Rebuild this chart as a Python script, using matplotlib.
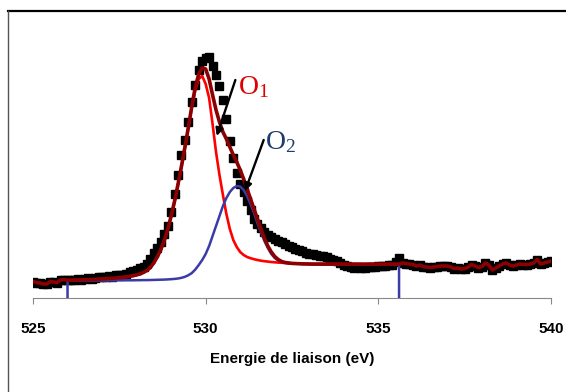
import numpy as np
import matplotlib.pyplot as plt
from matplotlib import font_manager
from matplotlib.lines import Line2D

# raw O1s spectrum, 525.0 -> 540.0 eV every 0.1 eV
intensity = [16.5, 15.5, 15, 14, 14, 16.5, 16, 15.5, 18, 18.5,
             18, 18, 18.5, 19, 18.5, 19.5, 20, 19.5, 20.5, 21,
             21, 21.5, 22, 21.5, 23, 23, 23.5, 24.5, 26, 27,
             28.5, 30, 31.5, 34, 39, 45, 50, 56, 64, 72,
             86, 104, 123, 143, 158, 176, 196, 213, 228, 237,
             240, 241, 232, 223, 212, 198, 179, 157, 140, 125,
             114, 106, 97, 88, 79, 74, 70, 66, 63, 61,
             59, 57, 56, 54, 52.5, 51, 49, 48, 47, 45.5,
             44.5, 44, 43, 42.5, 42, 41, 39.5, 38, 37, 35,
             33, 32, 31, 30.5, 31, 30, 30.5, 31, 31.5, 31,
             32, 32.5, 32, 33, 33, 36, 40, 35, 34.5, 34,
             33.5, 32, 33, 31.5, 31, 30.5, 31, 31.5, 32, 32,
             32, 31, 29.5, 30, 29, 29.5, 31, 33.5, 32, 30.5,
             31.5, 35, 33, 28, 30, 32, 34, 35, 33, 32,
             33, 34, 33.5, 33.5, 34, 35, 38.5, 34, 35, 36,
             37]

# fitted components, 526.0 -> 535.6 eV every 0.1 eV
o1 = [17.7, 17.8, 17.9, 18.0, 18.1, 18.2, 18.3, 18.4, 18.6, 18.8,
      19.0, 19.2, 19.4, 19.6, 19.9, 20.2, 20.6, 21.0, 21.5, 22.2,
      23.0, 24.0, 25.5, 27.5, 30.5, 35, 41, 48, 57, 68,
      81, 96, 113, 131, 150, 170, 191, 208, 219, 222,
      214, 200, 174, 146, 123, 103, 84, 69, 58, 51,
      46, 43, 41, 39.8, 38.8, 38, 37.3, 36.8, 36.4, 36.0,
      35.7, 35.4, 35.2, 35.0, 34.8, 34.6, 34.5, 34.4, 34.3, 34.2,
      34.1, 34.1, 34.0, 34.0, 34.0, 33.9, 33.9, 33.9, 33.9, 33.8,
      33.8, 33.8, 33.8, 33.8, 33.8, 33.8, 33.8, 33.8, 33.8, 33.8,
      33.8, 33.8, 33.8, 33.8, 33.8, 33.8, 33.8]
o2 = [17.5, 17.5, 17.5, 17.5, 17.5, 17.5, 17.5, 17.5, 17.5, 17.5,
      17.5, 17.5, 17.5, 17.6, 17.6, 17.6, 17.6, 17.7, 17.7, 17.7,
      17.8, 17.8, 17.9, 17.9, 18.0, 18.1, 18.2, 18.3, 18.4, 18.6,
      18.8, 19.1, 19.5, 20.2, 21.2, 22.8, 25, 28.5, 33, 38,
      44, 52, 62, 72, 82, 92, 100, 106, 110, 112,
      111.5, 108, 102, 94, 85, 75, 66, 57, 50, 44,
      40, 37.5, 36, 35.2, 34.8, 34.5, 34.3, 34.2, 34.1, 34.0,
      33.9, 33.9, 33.9, 33.9, 33.8, 33.8, 33.8, 33.8, 33.8, 33.8,
      33.8, 33.8, 33.8, 33.8, 33.8, 33.8, 33.8, 33.8, 33.8, 33.8,
      33.8, 33.8, 33.8, 33.8, 33.8, 33.8, 33.8]
envelope = [17.7, 17.8, 17.9, 18.0, 18.1, 18.2, 18.3, 18.4, 18.6, 18.8,
            19.0, 19.2, 19.4, 19.7, 20.0, 20.3, 20.7, 21.1, 21.6, 22.3,
            23.1, 24.1, 25.6, 27.6, 30.7, 35.2, 41.3, 48.4, 57.5, 68.6,
            82, 97, 114, 132, 151, 171, 192, 211, 224, 230,
            229, 219, 203, 188, 176, 166, 159, 151, 143, 136,
            128, 119, 109, 99, 89, 79, 69, 60, 52, 46,
            41.5, 38.5, 36.5, 35.5, 35, 34.6, 34.4, 34.2, 34.1, 34.0,
            33.9, 33.9, 33.9, 33.9, 33.8, 33.8, 33.8, 33.8, 33.8, 33.8,
            33.8, 33.8, 33.8, 33.8, 33.8, 33.8, 33.8, 33.8, 33.8, 33.8,
            33.8, 33.8, 33.8, 33.8, 33.8, 33.8, 33.8]
fit_start, fit_end = 526.0, 535.6
xticks = [525, 530, 535, 540]

energy = np.round(525.0 + 0.1 * np.arange(len(intensity)), 1)
fit_energy = np.round(fit_start + 0.1 * np.arange(len(o1)), 1)
intensity = np.array(intensity)

names = {f.name for f in font_manager.fontManager.ttflist}
narrow = 'Liberation Sans Narrow' if 'Liberation Sans Narrow' in names else 'Liberation Sans'

fig = plt.figure(figsize=(5.66, 3.92), dpi=100)
ax = fig.add_axes([33 / 566, (392 - 298) / 392, 518 / 566, 278 / 392])

# frame around the chart (cut at right and bottom)
fig.add_artist(Line2D([8 / 566, 1.0], [1 - 10.5 / 392] * 2, transform=fig.transFigure, color='black', lw=1.6))
fig.add_artist(Line2D([8 / 566] * 2, [0, 1 - 10.5 / 392], transform=fig.transFigure, color='#555555', lw=1.0))

ax.plot(energy, intensity, 's', color='black', ms=5.6, mec='black', zorder=2)
ax.plot(fit_energy, o1, color='#ff0000', lw=1.9, zorder=3)
ax.plot(np.r_[fit_start, fit_energy, fit_end], np.r_[0, o2, 0], color='#3b3ba6', lw=1.8, zorder=4)
left = energy < fit_start
right = energy > fit_end
ax.plot(np.r_[energy[left], fit_energy, energy[right]],
        np.r_[intensity[left], envelope, intensity[right]], color='#8b0000', lw=2.6, zorder=5)

ax.set_xlim(525, 540)
ax.set_ylim(0, 278)
for s in ['left', 'right', 'top']:
    ax.spines[s].set_visible(False)
ax.spines['bottom'].set_color('#888888')
ax.set_yticks([])
ax.set_xticks(xticks)
ax.tick_params(axis='x', direction='out', length=4.5, color='#888888', pad=13)
size = 11.5 if narrow.endswith('Narrow') else 11
for lab in ax.get_xticklabels():
    lab.set_fontfamily(narrow)
    lab.set_fontweight('bold')
    lab.set_fontsize(size)
ax.set_xlabel('Energie de liaison (eV)', fontfamily=narrow, fontweight='bold', fontsize=size, labelpad=11)

arrow = dict(arrowstyle='-|>', color='black', lw=1.7, mutation_scale=11, shrinkA=0, shrinkB=0)
ax.annotate('', xy=(530.32, 162), xytext=(530.86, 218), arrowprops=arrow, zorder=6)
ax.annotate('', xy=(531.14, 107), xytext=(531.68, 158), arrowprops=arrow, zorder=6)
ax.text(530.93, 204, r'$\mathregular{O_1}$', color='#e00000', fontfamily='Liberation Serif', fontsize=20, va='baseline')
ax.text(531.72, 149, r'$\mathregular{O_2}$', color='#1f3c6e', fontfamily='Liberation Serif', fontsize=20, va='baseline')

fig.savefig('out.png', dpi=100)
